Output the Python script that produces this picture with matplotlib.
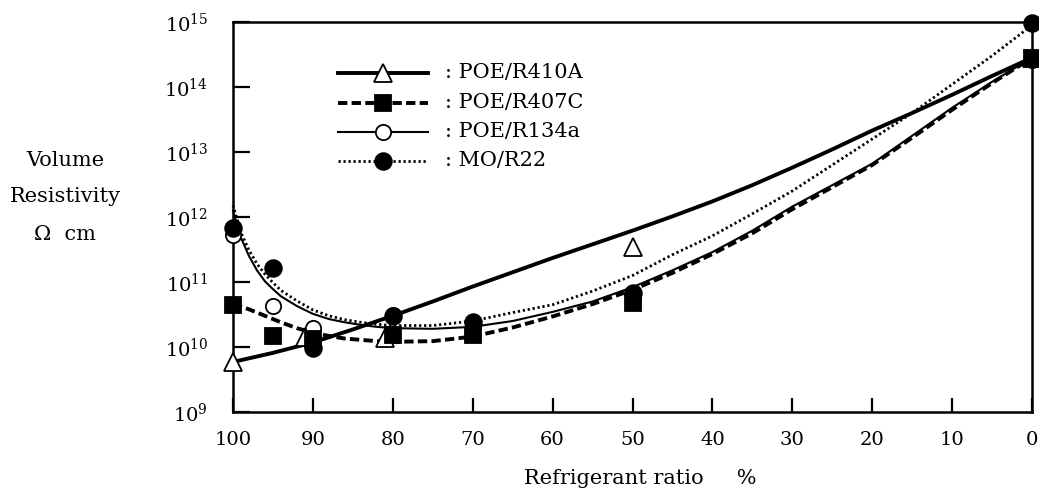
import numpy as np
import matplotlib
matplotlib.use("Agg")
import matplotlib.pyplot as plt
from matplotlib.ticker import FixedLocator, NullLocator, FuncFormatter

plt.rcParams['font.family'] = ['DejaVu Serif']
plt.rcParams['mathtext.fontset'] = 'dejavuserif'

# ---------------- data (log10 of volume resistivity, Ohm cm) ----------------
series_names = ["POE/R410A", "POE/R407C", "POE/R134a", "MO/R22"]

r410a_x = [100, 91, 81, 50, 0]
r410a_log = [9.77, 10.16, 10.14, 11.54, 14.45]

r407c_x = [100, 95, 90, 80, 70, 50, 0]
r407c_log = [10.65, 10.17, 10.13, 10.18, 10.18, 10.67, 14.45]

r134a_x = [100, 95, 90, 80, 70, 50, 0]
r134a_log = [11.72, 10.63, 10.29, 10.49, 10.33, 10.75, 14.42]

r22_x = [100, 95, 90, 80, 70, 50, 0]
r22_log = [11.83, 11.21, 9.98, 10.47, 10.39, 10.83, 14.98]

# fitted trend curves
r410a_fit_x = [100, 95, 90, 85, 80, 75, 70, 65, 60, 55, 50, 45, 40, 35, 30, 25, 20, 15, 10, 5, 0]
r410a_fit_log = [9.77, 9.91, 10.07, 10.27, 10.48, 10.70, 10.93, 11.15, 11.37, 11.58, 11.79, 12.01,
                 12.24, 12.49, 12.76, 13.04, 13.33, 13.60, 13.88, 14.17, 14.45]

r407c_fit_x = [100, 98, 96, 94, 92, 90, 88, 86, 84, 82, 80, 75, 70, 65, 60, 55, 50, 45, 40, 35,
               30, 25, 20, 15, 10, 5, 0]
r407c_fit_log = [10.66, 10.58, 10.48, 10.38, 10.29, 10.22, 10.17, 10.13, 10.11, 10.09, 10.08,
                 10.09, 10.16, 10.30, 10.47, 10.66, 10.88, 11.14, 11.43, 11.75, 12.12, 12.46,
                 12.80, 13.22, 13.65, 14.06, 14.45]

r134a_fit_x = [100, 99, 98, 97, 96, 95, 94, 92, 90, 88, 86, 84, 82, 80, 75, 70, 65, 60, 55, 50,
               45, 40, 35, 30, 25, 20, 15, 10, 5, 0]
r134a_fit_log = [12.10, 11.68, 11.40, 11.18, 11.01, 10.89, 10.78, 10.63, 10.51, 10.43, 10.38,
                 10.34, 10.31, 10.29, 10.28, 10.31, 10.40, 10.54, 10.70, 10.92, 11.18, 11.46,
                 11.79, 12.16, 12.49, 12.82, 13.25, 13.68, 14.08, 14.45]

r22_fit_x = [100, 99, 98, 97, 96, 95, 94, 92, 90, 88, 86, 84, 82, 80, 75, 70, 65, 60, 55, 50,
             45, 40, 35, 30, 25, 20, 15, 10, 5, 0]
r22_fit_log = [12.18, 11.76, 11.49, 11.28, 11.12, 10.99, 10.87, 10.71, 10.57, 10.48, 10.42,
               10.38, 10.35, 10.33, 10.33, 10.40, 10.53, 10.65, 10.86, 11.10, 11.42, 11.71,
               12.05, 12.40, 12.80, 13.20, 13.60, 14.04, 14.48, 14.95]

x_ticks = [100, 90, 80, 70, 60, 50, 40, 30, 20, 10, 0]
y_tick_exps = [9, 10, 11, 12, 13, 14, 15]

# ---------------- styles ----------------
styles = {
    "POE/R410A": dict(ls="-", lw=2.8, marker="^", mfc="white", ms=13),
    "POE/R407C": dict(ls=(0, (2.4, 1.1)), lw=2.8, marker="s", mfc="black", ms=11),
    "POE/R134a": dict(ls="-", lw=1.5, marker="o", mfc="white", ms=11),
    "MO/R22": dict(ls=(0, (0.8, 1.0)), lw=2.0, marker="o", mfc="black", ms=12),
}

fig = plt.figure(figsize=(10.39, 4.97), dpi=100)
ax = fig.add_axes([233 / 1039, 1 - 412 / 497, 799 / 1039, 390 / 497])
ax.set_yscale("log")
ax.set_xlim(100, 0)
ax.set_ylim(1e9, 1e15)

data = {
    "POE/R410A": (r410a_x, r410a_log, r410a_fit_x, r410a_fit_log),
    "POE/R407C": (r407c_x, r407c_log, r407c_fit_x, r407c_fit_log),
    "POE/R134a": (r134a_x, r134a_log, r134a_fit_x, r134a_fit_log),
    "MO/R22": (r22_x, r22_log, r22_fit_x, r22_fit_log),
}

for name in series_names:
    xs, ls_, fx, fl = data[name]
    st = styles[name]
    ax.plot(fx, 10 ** np.array(fl), color="black", ls=st["ls"], lw=st["lw"], clip_on=False,
            zorder=2)

marker_order = ["POE/R134a", "POE/R410A", "POE/R407C", "MO/R22"]
for i, name in enumerate(marker_order):
    xs, ls_, fx, fl = data[name]
    st = styles[name]
    ax.plot(xs, 10 ** np.array(ls_), ls="none", marker=st["marker"], ms=st["ms"],
            mfc=st["mfc"], mec="black", mew=1.3, clip_on=False, zorder=3 + i * 0.1)

# legend drawn manually in axes coordinates
leg_rows = [0.870, 0.793, 0.719, 0.644]
for name, yy in zip(series_names, leg_rows):
    st = styles[name]
    ax.plot([0.131, 0.244], [yy, yy], transform=ax.transAxes, color="black",
            ls=st["ls"], lw=st["lw"], zorder=4)
    ax.plot([0.1875], [yy], transform=ax.transAxes, ls="none", marker=st["marker"],
            ms=st["ms"], mfc=st["mfc"], mec="black", mew=1.3, zorder=5)
    ax.text(0.265, yy, ": " + name, transform=ax.transAxes, fontsize=15,
            va="center", ha="left")

# axes styling
for s in ax.spines.values():
    s.set_linewidth(1.8)
ax.xaxis.set_major_locator(FixedLocator(x_ticks))
ax.xaxis.set_minor_locator(NullLocator())
ax.yaxis.set_major_locator(FixedLocator([10.0 ** e for e in y_tick_exps]))
ax.yaxis.set_minor_locator(NullLocator())
ax.yaxis.set_major_formatter(FuncFormatter(lambda v, p: r"$10^{%d}$" % round(np.log10(v))))
ax.tick_params(axis="x", direction="in", length=10, width=1.6, labelsize=14, pad=14)
ax.tick_params(axis="y", direction="in", length=12, width=1.6, labelsize=14, pad=18)

fig.text(640 / 1039, 1 - 478 / 497, "Refrigerant ratio     %", fontsize=15,
         ha="center", va="center")
fig.text(65 / 1039, 1 - 160 / 497, "Volume", fontsize=15, ha="center", va="center")
fig.text(65 / 1039, 1 - 197 / 497, "Resistivity", fontsize=15, ha="center", va="center")
fig.text(65 / 1039, 1 - 235 / 497, "Ω  cm", fontsize=15, ha="center", va="center")

fig.savefig("out.png", dpi=100)
